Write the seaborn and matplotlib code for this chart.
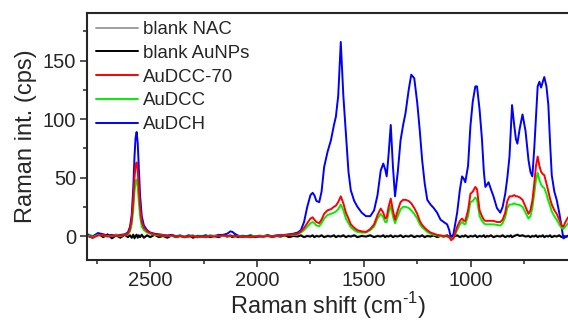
import matplotlib
matplotlib.use("Agg")
import matplotlib.pyplot as plt
import seaborn as sns
from matplotlib.ticker import MultipleLocator

# Raman shift grid (cm-1), shared by all spectra
shift = [
    2795, 2770, 2745, 2720, 2700, 2680, 2660, 2640, 2620, 2605,
    2595, 2587, 2580, 2574, 2569, 2564, 2559, 2554, 2548, 2540,
    2530, 2515, 2500, 2480, 2460, 2440, 2420, 2400, 2380, 2360,
    2340, 2320, 2300, 2280, 2260, 2240, 2220, 2200, 2180, 2160,
    2140, 2125, 2115, 2105, 2090, 2070, 2050, 2030, 2010, 1990,
    1970, 1950, 1930, 1910, 1890, 1870, 1850, 1830, 1810, 1795,
    1780, 1765, 1750, 1740, 1732, 1722, 1709, 1698, 1686, 1670,
    1654, 1640, 1631, 1620, 1608, 1596, 1584, 1572, 1561, 1545,
    1530, 1510, 1490, 1470, 1452, 1436, 1421, 1409, 1400, 1393,
    1384, 1374, 1364, 1354, 1341, 1328, 1316, 1305, 1290, 1278,
    1264, 1250, 1238, 1227, 1215, 1203, 1188, 1173, 1157, 1141,
    1126, 1110, 1100, 1091, 1080, 1063, 1050, 1040, 1032, 1025,
    1012, 1001, 990, 978, 970, 958, 947, 938, 931, 923,
    916, 905, 893, 877, 861, 850, 838, 828, 818, 812,
    806, 796, 788, 781, 770, 757, 743, 729, 720, 711,
    702, 694, 686, 678, 670, 662, 655, 645, 636, 628,
    620, 608, 597, 585, 574, 566, 556, 544,
]

blank_nac = [
    2, 0, 2.5, 0.5, 1, -0.5, 1.5, 0, 1, 0,
    1, -0.5, 1.5, -1, 0.5, 1.5, -1, 1, -0.5, 1.5,
    -1, 1, -0.5, 1.5, -0.5, 0.5, -1, 1, -0.5, 0.5,
    -0.5, 1, -1, 0.5, 0, 1, -0.5, 0.5, -0.5, 1,
    0, 0.5, -0.5, 1, -0.5, 0.5, 0, 1, -0.5, 0.5,
    0, 1, -0.5, 0.5, 0, 1, -0.5, 0.5, 0, 1,
    -0.5, 0.5, 0, 1, -0.5, 0.5, 0, 1, -0.5, 0.5,
    0, 1, -0.5, 0.5, 0, 1, -0.5, 0.5, 0, 1,
    -0.5, 0.5, 0, 1, -0.5, 0.5, 0, 1, -0.5, 0.5,
    0, 1, -0.5, 0.5, 0, 1, -0.5, 0.5, 0, 1,
    -0.5, 0.5, 0, 1, -0.5, 0.5, 0, 1, -0.5, 0.5,
    0, 1, -0.5, 0.5, 0, 1, -0.5, 0.5, 0, 1,
    -0.5, 0.5, 0, 1, -0.5, 0.5, 0, 1, -0.5, 0.5,
    0, 1, -0.5, 0.5, 0, 1, -0.5, 0.5, 0, 1,
    -0.5, 0.5, 1, 1.5, 0.5, 1, 0, 0.5, -0.5, 0.5,
    0, 1, -0.5, 0.5, 0, 1, -0.5, 0.5, 0, 1,
    -0.5, 0.5, 0, 1, -0.5, 0.5, 0, 0.5,
]

blank_aunps = [
    1, -1.5, 2, -1, 1.5, -2, 0.5, -1.5, 1, -1,
    0.5, -1.5, 1, -2, 0, 1, -1.5, 0.5, -1, 1,
    -1.5, 0.5, -1, 1, -1, 0, -1.5, 0.5, -1, 0,
    -1, 0.5, -1.5, 0, -0.5, 0.5, -1, 0, -1, 0.5,
    -0.5, 0, -1, 0.5, -1, 0, -0.5, 0.5, -1, 0,
    -0.5, 0.5, -1, 0, -0.5, 0.5, -1, 0, -0.5, 0.5,
    -1, 0, -0.5, 0.5, -1, 0, -0.5, 0.5, -1, 0,
    -0.5, 0.5, -1, 0, -0.5, 0.5, -1, 0, -0.5, 0.5,
    -1, 0, -0.5, 0.5, -1, 0, -0.5, 0.5, -1, 0,
    -0.5, 0.5, -1, 0, -0.5, 0.5, -1, 0, -0.5, 0.5,
    -1, 0, -0.5, 0.5, -1, 0, -0.5, 0.5, -1, 0,
    -0.5, 0.5, -1, 0, -0.5, 0.5, -1, 0, -0.5, 0.5,
    -1, 0, -0.5, 0.5, -1, 0, -0.5, 0.5, -1, 0,
    -0.5, 0.5, -1, 0, -0.5, 0.5, -1, 0, -0.5, 0.5,
    -1, 0, 0.5, 1, 0, 0.5, -0.5, 0, -1, 0,
    -0.5, 0.5, -1, 0, -0.5, 0.5, -1, 0, -0.5, 0.5,
    -1, 0, -0.5, 0.5, -1, 0, -0.5, 0,
]

audcc70 = [
    0, -1.5, 0.5, 1, -0.5, 0.5, 0, 0.5, 1, 2,
    6, 14, 30, 50, 60, 63, 56, 42, 25, 12,
    7, 4, 2.5, 1.5, 1, 0.5, 0, 0.5, -0.5, 0,
    -1, -0.5, 0, -1, -0.5, -1, 0, -0.5, 0, 0.5,
    0, 0.5, 0, -0.5, 0, -1, -0.5, -1, -0.5, 0,
    -0.5, 0, -0.5, 0, 0.5, 0.5, 1, 1.5, 2, 4,
    7, 11, 15, 16, 14, 12, 11, 14, 19, 22,
    23, 25, 26, 29, 34, 28, 20, 15, 10, 7,
    5, 4, 3.5, 6, 10, 18, 23.5, 20, 15, 16,
    25, 32, 22, 14, 22, 29, 31, 31, 30, 28,
    24, 19, 13, 9.5, 7, 5, 3, 2, 1, 0.5,
    0, 0, -1, -3.5, -2, 8, 13, 15, 13, 13,
    22, 36, 38, 42, 40, 22, 17, 14, 13, 13,
    13, 13, 13, 12, 12, 14, 20, 30, 34, 34,
    34, 35, 34, 34, 33, 31, 25, 19, 22, 30,
    45, 60, 68, 60, 55, 53, 52, 45, 38, 32,
    27, 22, 19, 14, 9, 8, 12, 16,
]

audcc = [
    0.5, -1, 1, 0.5, 0, 0, 0.5, 0, 1, 1.5,
    4, 10, 22, 38, 46, 48.5, 42, 30, 17, 8,
    5, 3, 2, 1, 0.5, 0.5, 0, 0, -0.5, 0,
    -0.5, -0.5, 0, -0.5, -0.5, -0.5, 0, 0, 0, 0,
    0, 0.5, 0, -0.5, 0, -0.5, -0.5, -0.5, 0, 0,
    0, 0, -0.5, 0, 0.5, 0.5, 1, 1, 1.5, 3,
    5, 8, 11, 12, 11, 9, 8.5, 11, 15, 18,
    19, 20, 21, 23, 27, 22, 15, 11, 7.5, 5,
    3.5, 3, 3, 5, 8, 15, 19, 16, 12, 12,
    20, 26, 17, 11, 17, 23, 25, 25, 24, 22,
    19, 15, 10, 7.5, 5.5, 3.5, 2, 1, 0.5, 0,
    0, -0.5, -1, -2.5, -1.5, 5, 10, 12, 10.5, 10,
    17, 29, 30, 33, 31, 17, 13, 11, 10, 10,
    10, 10, 10, 9.5, 9, 11, 16, 24, 27, 27,
    27, 28, 27, 27, 26.5, 25, 20, 15, 17, 24,
    36, 48, 54, 48, 44, 42, 41, 36, 30, 26,
    21, 17, 14, 10, 7, 6, 8, 11,
]

audch = [
    1, -0.5, 2.5, 1.5, 0.5, 1, 0, 1, 1.5, 3,
    8, 18, 40, 68, 84, 89, 80, 60, 35, 17,
    9, 5, 3, 2, 1.5, 1, 0.5, 1, 0, 0.5,
    -0.5, 0, 0.5, -1, 0, -0.5, 0.5, 0, 1, 1,
    2, 4, 3.5, 2, 0.5, -0.5, 0, -1, 0, -0.5,
    0, 0.5, 0, 0.5, 1, 1, 1.5, 2, 3, 5,
    12, 25, 35, 37, 35, 30, 29, 38, 59, 72,
    82, 95, 102, 120, 166, 120, 88, 55, 39, 30,
    25, 20, 17, 17, 22, 35, 56, 62, 57, 51,
    70, 95, 60, 34, 55, 82, 95, 105, 125, 138,
    135, 114, 90, 65, 45, 31, 27, 24, 20, 14,
    12, 10, 5, -3, 2, 20, 40, 51, 49, 46,
    60, 94, 115, 128, 128, 108, 83, 55, 42, 44,
    46, 40, 34, 24, 20, 25, 36, 50, 68, 90,
    112, 95, 83, 79, 92, 104, 90, 65, 55, 51,
    75, 102, 128, 132, 127, 132, 136, 128, 112, 80,
    52, 38, 31, 20, 8, -2, -1, 0,
]

sns.set_style("ticks")
plt.rcParams['font.family'] = ['Liberation Sans', 'DejaVu Sans']
plt.rcParams['mathtext.fontset'] = 'custom'
plt.rcParams['mathtext.rm'] = 'Liberation Sans'

fig = plt.figure(figsize=(5.68, 3.22), dpi=100)
ax = fig.add_axes([0.1537, 0.1925, 0.8463, 0.768])

lw = 1.4
kw = dict(ax=ax, sort=False, estimator=None, linewidth=lw)
sns.lineplot(x=shift, y=blank_nac, color='#a0a0a0', label='blank NAC', **kw)
sns.lineplot(x=shift, y=blank_aunps, color='black', label='blank AuNPs', **kw)
sns.lineplot(x=shift, y=audch, color='#0000ff', label='AuDCH', **kw)
sns.lineplot(x=shift, y=audcc, color='#00f000', label='AuDCC', **kw)
sns.lineplot(x=shift, y=audcc70, color='#ff0000', label='AuDCC-70', **kw)

ax.set_xlim(2795, 544)
ax.set_ylim(-20.5, 191)
ax.xaxis.set_major_locator(MultipleLocator(500))
ax.xaxis.set_minor_locator(MultipleLocator(250))
ax.yaxis.set_major_locator(MultipleLocator(50))
ax.yaxis.set_minor_locator(MultipleLocator(25))
ax.tick_params(which='major', direction='out', length=5, width=1.1, labelsize=14.5, pad=3)
ax.tick_params(which='minor', direction='out', length=3, width=1.1)
ax.tick_params(axis='x', which='major', pad=3)

for s in ['left', 'bottom', 'top']:
    ax.spines[s].set_linewidth(1.5)
ax.spines['right'].set_visible(False)

ax.set_xlabel(r'Raman shift (cm$^{\text{-1}}$)', fontsize=17, labelpad=0)
ax.set_ylabel('Raman int. (cps)', fontsize=17, labelpad=4)

handles, labels = ax.get_legend_handles_labels()
order = ['blank NAC', 'blank AuNPs', 'AuDCC-70', 'AuDCC', 'AuDCH']
hmap = dict(zip(labels, handles))
ax.legend([hmap[k] for k in order], order, loc='upper left', bbox_to_anchor=(0, 1),
          frameon=False, fontsize=13.4, handlelength=2.26, handletextpad=0.3,
          labelspacing=0.36, borderaxespad=0, borderpad=0.45)

fig.savefig('out.png', dpi=100)
